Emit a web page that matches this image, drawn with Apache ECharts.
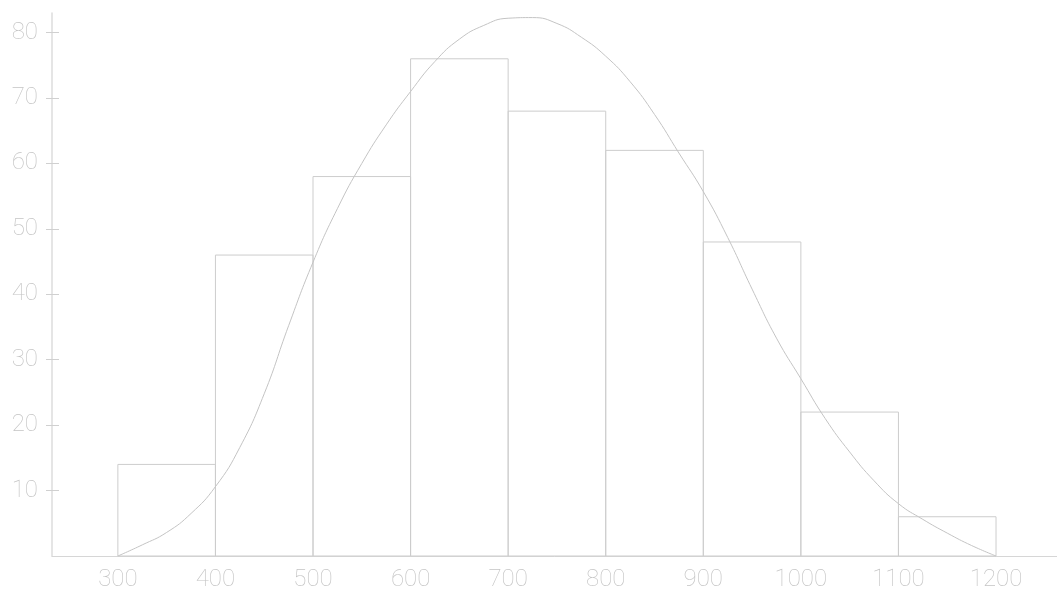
<!DOCTYPE html>
<html>
<head>
<meta charset="utf-8">
<script src="https://cdn.jsdelivr.net/npm/echarts@6/dist/echarts.min.js"></script>
<style>
html, body { margin: 0; padding: 0; background: #fff; }
#chart { width: 1057px; height: 595px; }
</style>
</head>
<body>
<div id="chart"></div>
<script>
// histogram bins
var binStart = [300, 400, 500, 600, 700, 800, 900, 1000, 1100];
var binEnd = [400, 500, 600, 700, 800, 900, 1000, 1100, 1200];
var binCount = [14, 46, 58, 76, 68, 62, 48, 22, 6];

// fitted curve
var curveX = [300, 325, 350, 375, 400, 425, 450, 475, 500, 525, 550, 575, 600, 625, 650, 675, 700, 725, 750,
	775, 800, 825, 850, 875, 900, 925, 950, 975, 1000, 1025, 1050, 1075, 1100, 1125, 1150, 1175, 1200];
var curveY = [0, 1.7, 3.6, 6.5, 10.6, 16.6, 24.8, 35.2, 44.9, 53.1, 60.0, 65.9, 71.0, 75.6, 79.0, 81.1, 82.2, 82.3, 81.4,
	79.3, 76.4, 72.5, 67.5, 61.6, 55.7, 48.7, 40.8, 33.3, 27.1, 21.0, 15.9, 11.5, 8.0, 5.6, 3.5, 1.6, 0];

var xLabels = [300, 400, 500, 600, 700, 800, 900, 1000, 1100, 1200];
var yLabels = [10, 20, 30, 40, 50, 60, 70, 80];

var chart = echarts.init(document.getElementById('chart'));

var binData = [];
for (var i = 0; i < binStart.length; i++) {
	binData.push([binStart[i], binEnd[i], binCount[i]]);
}
var curveData = [];
for (var j = 0; j < curveX.length; j++) {
	curveData.push([curveX[j], curveY[j]]);
}

var labelFont = {
	color: '#c4c4c4',
	fontFamily: 'Roboto',
	fontWeight: 100,
	fontSize: 24,
	formatter: function(v) { return String(v); }
};

var option = {
	animation: false,
	grid: {
		left: 52,
		right: 0,
		top: 13,
		bottom: 39
	},
	xAxis: {
		type: 'value',
		min: 232.5,
		max: 1262.5,
		splitLine: { show: false },
		axisLine: { lineStyle: { color: '#d6d6d6', width: 1 } },
		axisTick: { show: false },
		axisLabel: Object.assign({
			margin: 12,
			customValues: xLabels
		}, labelFont)
	},
	yAxis: [
		{
			type: 'value',
			min: 0,
			max: 83,
			splitLine: { show: false },
			axisLine: { show: true, lineStyle: { color: '#dcdcdc', width: 1.5 } },
			axisTick: {
				show: true,
				length: 6,
				customValues: yLabels,
				lineStyle: { color: '#d0d0d0' }
			},
			axisLabel: Object.assign({
				margin: 14,
				customValues: yLabels
			}, labelFont)
		},
		{
			type: 'value',
			min: 0,
			max: 83,
			position: 'left',
			splitLine: { show: false },
			axisLine: { show: false },
			axisTick: {
				show: true,
				inside: true,
				length: 7,
				customValues: yLabels,
				lineStyle: { color: '#d0d0d0' }
			},
			axisLabel: { show: false }
		}
	],
	series: [
		{
			type: 'custom',
			data: binData,
			renderItem: function(params, api) {
				var p0 = api.coord([api.value(0), api.value(2)]);
				var p1 = api.coord([api.value(1), 0]);
				return {
					type: 'rect',
					shape: { x: p0[0], y: p0[1], width: p1[0] - p0[0], height: p1[1] - p0[1] },
					style: { fill: 'transparent', stroke: '#cdcdcd', lineWidth: 1 }
				};
			},
			encode: { x: [0, 1], y: 2 },
			z: 2
		},
		{
			type: 'line',
			data: curveData,
			smooth: 0.5,
			showSymbol: false,
			lineStyle: { color: '#c4c4c4', width: 1 },
			z: 3
		}
	]
};
chart.setOption(option);
</script>
</body>
</html>
